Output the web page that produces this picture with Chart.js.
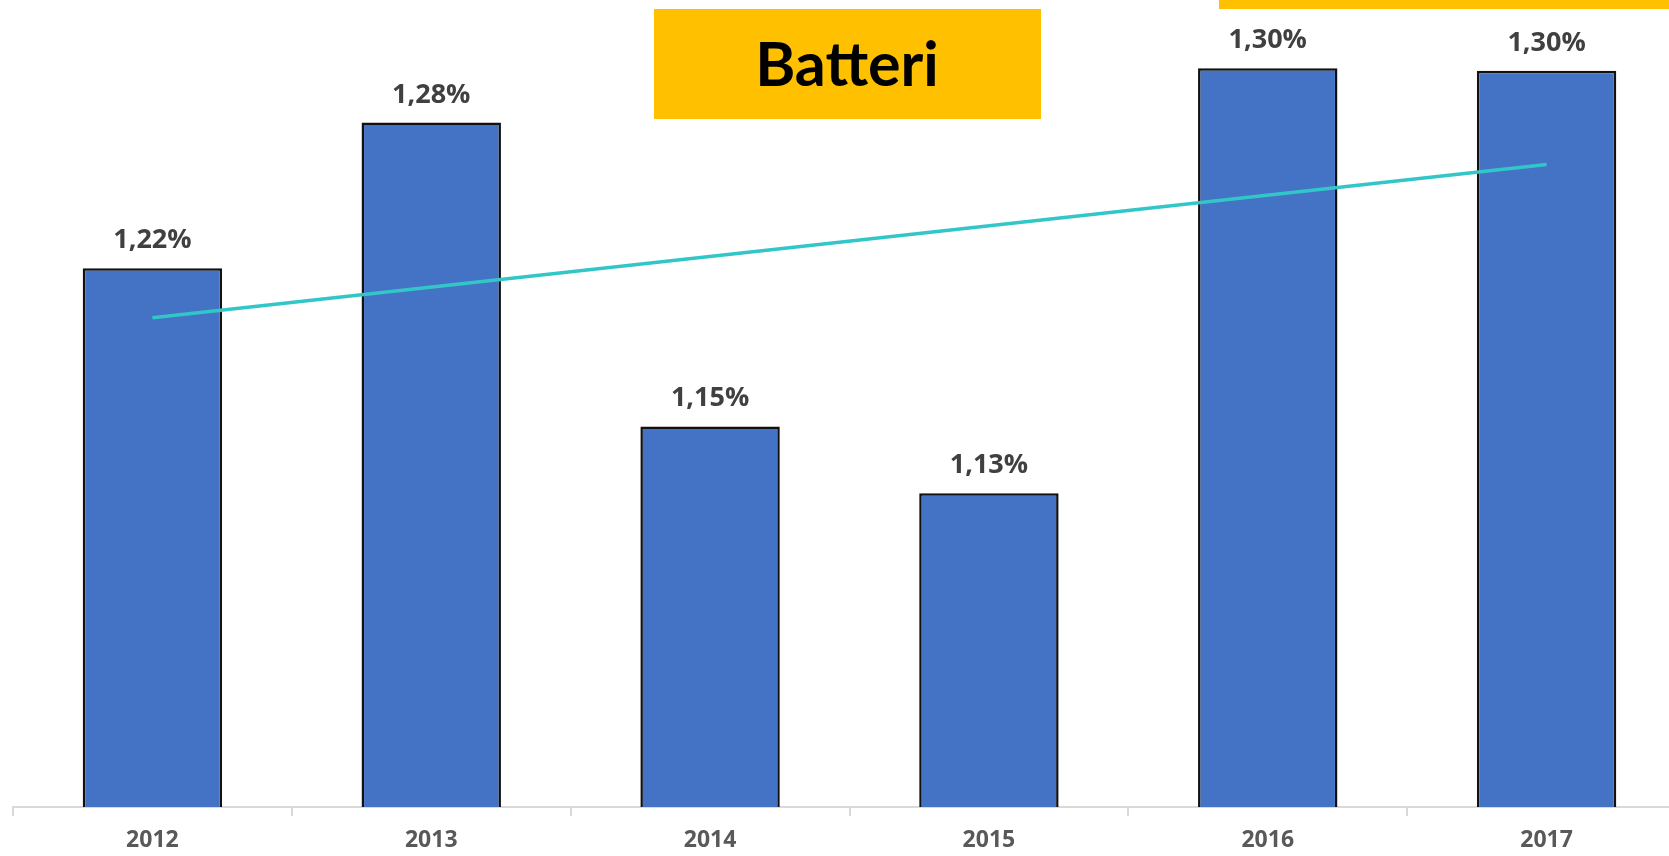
<!DOCTYPE html>
<html>
<head>
<meta charset="utf-8">
<script src="https://cdn.jsdelivr.net/npm/chart.js@4/dist/chart.umd.min.js"></script>
<style>
  html, body { margin: 0; padding: 0; background: #fff; overflow: hidden; }
  #wrap { position: relative; width: 1686px; height: 856px; }
</style>
</head>
<body>
<div id="wrap"><canvas id="chart"></canvas></div>
<script>
const years = ['2012', '2013', '2014', '2015', '2016', '2017'];
const shares = [1.218, 1.277, 1.154, 1.127, 1.299, 1.298];   // andel i %
const trendStart = 1.198;
const trendEnd = 1.260;
const titleText = 'Batteri';

const trendData = years.map((y, i) => i === 0 ? trendStart : (i === years.length - 1 ? trendEnd : null));

//? labels above the bars + title box
const overlayPlugin = {
    id: 'overlay',
    afterDatasetsDraw: (chart) => {
        const { ctx } = chart;
        ctx.save();
        ctx.fillStyle = '#404040';
        ctx.font = 'bold 27px "Open Sans"';
        ctx.textAlign = 'center';
        ctx.textBaseline = 'alphabetic';
        chart.getDatasetMeta(1).data.forEach((bar, i) => {
            const txt = shares[i].toFixed(2).replace('.', ',') + '%';
            ctx.fillText(txt, bar.x, bar.y - 20);
        });

        // top-right strip
        ctx.fillStyle = '#FFC000';
        ctx.fillRect(1219, 0, 500, 9);
        // title box
        ctx.fillRect(654, 9, 387, 110);
        ctx.fillStyle = '#000';
        ctx.font = 'bold 61px Lato';
        ctx.textBaseline = 'middle';
        ctx.fillText(titleText, 847, 66);
        ctx.restore();
    }
};

const chart = new Chart('chart', {
    data: {
        labels: years,
        datasets: [{
            type: 'line',
            data: trendData,
            borderColor: '#33C6C8',
            borderWidth: 3.5,
            pointRadius: 0,
            spanGaps: true,
            order: 0
        }, {
            type: 'bar',
            data: shares,
            backgroundColor: '#4472C4',
            borderColor: '#111',
            borderWidth: 2.5,
            borderSkipped: false,
            barPercentage: 0.5,
            categoryPercentage: 1,
            order: 1
        }]
    },
    options: {
        responsive: true,
        maintainAspectRatio: false,
        animation: false,
        layout: { padding: { left: 13, right: 0, top: 0, bottom: 0 } },
        plugins: {
            legend: { display: false },
            tooltip: { enabled: false }
        },
        scales: {
            x: {
                offset: true,
                grid: {
                    display: true,
                    offset: true,
                    drawOnChartArea: false,
                    drawTicks: true,
                    tickLength: 9,
                    color: '#D9D9D9',
                    lineWidth: 2
                },
                border: { display: true, color: '#D9D9D9', width: 2 },
                ticks: {
                    color: '#595959',
                    font: { family: 'Open Sans', weight: 'bold', size: 23 },
                    padding: 11
                },
                afterFit: (scale) => { scale.height = 49; }
            },
            y: {
                display: false,
                min: 1.0,
                max: 1.3266
            }
        }
    },
    plugins: [overlayPlugin]
});
</script>
</body>
</html>
